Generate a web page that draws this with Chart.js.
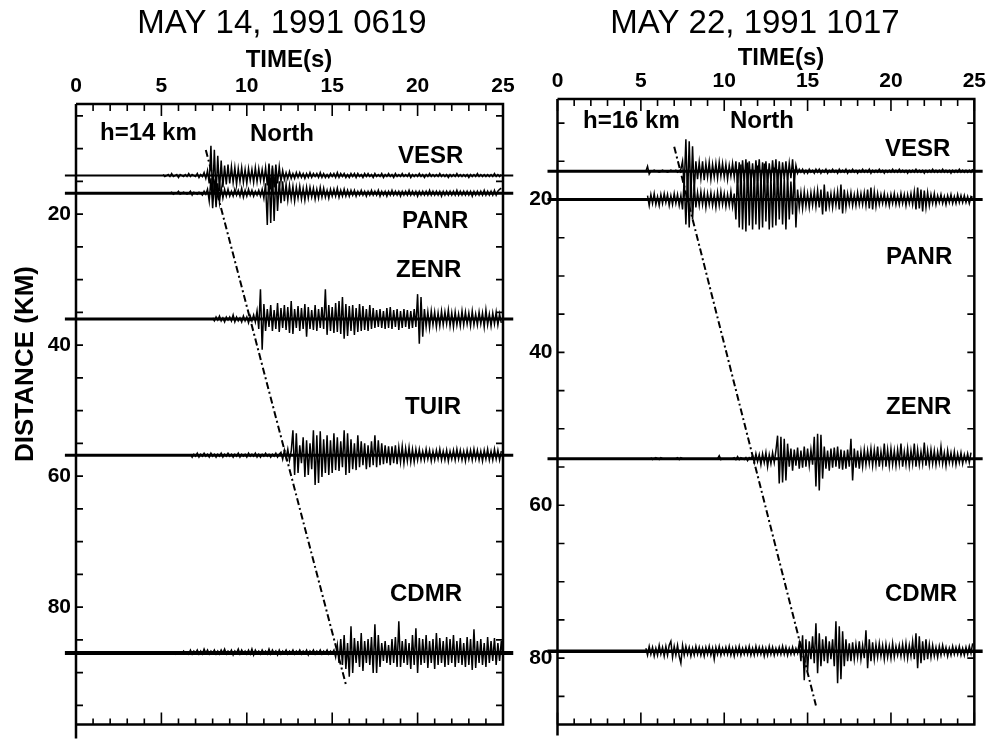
<!DOCTYPE html>
<html><head><meta charset="utf-8">
<script src="https://cdn.jsdelivr.net/npm/chart.js@4.4.1/dist/chart.umd.min.js"></script>
<style>
html,body{margin:0;padding:0;background:#fff;}
#wrap{position:relative;width:991px;height:742px;overflow:hidden;background:#fff;}
canvas{position:absolute;left:0;top:0;}
</style></head><body>
<div id="wrap"><canvas id="c1" width="991" height="742"></canvas><canvas id="c2" width="991" height="742"></canvas></div>
<script>
// ---------- DATA ----------
const timeTicks = [0, 5, 10, 15, 20, 25];          // s
const distTicks = [20, 40, 60, 80];                // km
const dt = 0.1;                                    // sample interval of traces (s)

// Event 1: MAY 14, 1991 0619 (h = 14 km)
const stations14 = ['VESR', 'PANR', 'ZENR', 'TUIR', 'CDMR'];
const dist14  = [14.1, 16.8, 36.0, 56.8, 87.0];    // epicentral distance (km)
const start14 = [5.1, 5.5, 8.0, 6.7, 5.5];         // trace start time (s)
const gain14 = 1 / 6.6;                            // km of plot per amplitude count
const moveoutTime14 = [7.6, 15.8];
const moveoutDist14 = [10.2, 91.8];

const vesr14 = [1,-1,0,1,-1,2,-1,0,1,-2,1,0,-1,1,-1,2,-1,1,0,-1,2,-2,1,-1,3,
 -3,5,-8,30,-22,26,-20,20,-16,15,
 -12,10,-9,11,-8,9,-7,8,-9,7,-6,8,-7,6,-8,7,-5,6,-7,8,-6,7,-5,6,-6,8,
 -10,12,-14,10,-12,11,-8,9,-6,5,
 -4,3,-3,4,-3,2,-3,3,-2,3,-2,2,-3,2,-2,3,-2,2,-1,2,
 -2,3,-2,2,-2,1,-2,2,-1,2,-2,3,-2,2,-1,2,-2,1,-2,2,
 -1,2,-2,2,-1,1,-2,2,-1,2,-1,1,-2,2,-1,1,-1,2,-2,1,
 -1,2,-1,1,-2,2,-1,1,-1,2,-1,1,-1,2,-2,1,-1,1,-1,2,
 -1,1,-2,1,-1,2,-1,1,-1,1,-1,2,-1,1,-1,1,-2,1,-1,1,
 -1,2,-1,1,-1,1,-1,1,-2,1,-1,1,-1,2,-1,1,-1,1,-1,1,
 -1,1,-1,2,-1,1,-1,1];
const panr14 = [0,1,-1,0,0,2,-1,0,1,0,-1,0,2,-2,1,0,-1,1,0,-2,2,-1,
 4,-8,15,-15,12,-14,10,-9,6,
 -5,4,-3,4,-3,2,-3,4,-2,3,-3,5,-4,3,-3,4,-2,3,-3,2,-2,3,-3,4,-5,
 10,-32,28,-30,25,-28,20,-18,12,-10,
 12,-8,9,-7,8,-6,7,-8,6,-5,7,-6,5,-7,6,-5,6,-4,5,-6,4,-5,6,-4,5,-4,3,-5,4,-3,4,-3,5,-4,3,-3,4,-3,3,
 -3,3,-2,3,-3,2,-2,3,-2,2,-3,2,-2,3,-2,2,-2,3,-3,2,
 -2,2,-3,2,-2,3,-2,2,-2,2,-3,2,-2,2,-2,3,-2,2,-2,2,
 -3,2,-2,2,-2,2,-2,3,-2,2,-2,2,-2,2,-3,2,-2,2,-2,2,
 -2,2,-2,3,-2,2,-2,2,-2,2,-2,2,-3,2,-2,2,-2,2,-2,3,
 -2,2,-2,2,-2,3,-2,2,4,5];
const zenr14 = [1,-2,2,-1,3,-2,1,-3,2,-1,2,-2,4,-3,2,-2,1,-3,3,-2,2,-4,3,-2,4,-3,
 8,-10,30,-31,15,-12,
 10,-8,14,-12,9,-10,16,-13,11,-9,14,-11,12,-14,18,-15,10,-9,13,-12,11,-10,15,-18,12,-10,9,-11,14,-12,10,-9,12,-10,
 30,-16,14,-12,
 12,-14,16,-13,18,-15,22,-20,15,-17,13,-12,14,-16,11,-13,15,-12,13,-11,10,-12,14,-10,11,-9,
 9,-8,10,-9,8,-10,11,-9,12,-10,9,-8,10,-11,8,-9,10,-8,9,-10,8,-9,10,-8,
 25,-25,22,-18,
 10,-8,7,-9,8,-6,7,-8,6,-7,8,-6,7,-5,9,-7,6,-8,7,-6,5,-7,8,-6,7,-5,6,-7,8,-6,5,-6,7,-5,6,-8,9,-6,5,-7,6,-5,7,-6,5,-4];
const tuir14 = [1,-2,1,-1,2,-2,1,-1,2,-1,1,-2,2,-1,1,-2,1,-1,2,-2,
 1,-1,2,-1,1,-2,1,-1,2,-2,1,-1,1,-2,2,-1,1,-1,2,-2,
 1,-2,1,-1,2,-1,1,-2,1,-1,2,-2,1,
 3,-4,5,-3,6,-5,4,
 25,-20,22,-18,10,-8,18,-22,15,-20,12,-14,25,-30,20,-28,24,-22,16,-18,
 20,-20,15,-18,22,-15,18,-16,14,-12,25,-20,22,-18,16,-14,12,-15,20,-12,
 14,-10,12,-14,10,-12,14,-10,20,-12,15,-10,12,-9,10,-8,9,
 -10,9,-8,10,-9,8,-7,9,-8,7,-6,8,-7,6,-7,6,-5,6,
 -5,4,-5,6,-4,5,-6,4,-5,5,-4,6,-5,4,-5,5,-6,4,-4,5,-5,6,-4,5,-5,4,-6,5,-4,5,-5,6,-4,5,-5,4,-6,5,-4,6,-5,4,-5,6,-4,5,-5,4];
const cdmr14 = [1,0,1,-1,1,0,1,-1,2,0,1,-1,
 3,-1,2,0,3,-1,2,-1,4,0,3,-1,2,0,3,-1,2,-1,3,0,
 4,-1,2,0,3,-2,2,0,4,-1,3,0,2,-1,3,-1,4,-2,3,0,
 2,-1,3,0,2,-1,4,-1,3,0,2,-2,3,-1,2,0,3,-1,2,0,
 3,-1,2,0,3,-1,2,0,3,-2,2,0,3,-1,2,0,3,-1,2,0,
 3,-1,2,0,3,
 -4,8,-10,14,-12,18,-16,10,-24,27,-20,15,-10,12,-14,20,-18,12,-10,14,
 -12,16,-20,29,-20,18,-14,10,-8,12,-10,8,-12,14,-10,16,-14,32,-14,12,
 -10,14,-12,10,-16,18,-12,25,-20,15,-12,14,-10,18,-15,12,-10,14,-16,20,
 -12,15,-10,12,-14,16,-12,14,-10,18,-14,12,-10,15,-12,10,-14,16,-12,14,
 -17,24,-15,12,-10,14,-12,10,-14,16,-10,12,-8,15,-12,10,-8,12,-6];

// Event 2: MAY 22, 1991 1017 (h = 16 km)
const stations22 = ['VESR', 'PANR', 'ZENR', 'CDMR'];
const dist22  = [16.3, 20.0, 53.9, 79.1];
const start22 = [5.3, 5.4, 5.6, 5.3];
const gain22 = 1 / 7.66;
const moveoutTime22 = [7.0, 15.5];
const moveoutDist22 = [13.1, 86.2];

const vesr22 = [0,5,-3,0,0,1,0,0,-1,0,1,0,0,-1,0,1,0,0,1,-1,0,2,
 10,-15,32,-28,30,-26,25,-20,
 10,-8,9,-7,10,-9,8,-6,9,-8,7,-6,8,-7,9,-5,8,-6,7,-8,6,-5,8,-6,
 10,-12,9,-14,11,-10,12,-15,10,-12,8,-14,11,-10,12,-13,9,-11,10,-12,8,-10,11,-9,12,-14,10,-12,9,-8,10,-9,8,-7,12,-10,6,
 -2,2,-1,2,-2,1,-2,2,-1,1,-2,2,-1,2,-2,1,-1,2,-2,1,
 -1,2,-1,1,-2,2,-1,1,-1,2,-2,1,-1,2,-1,1,-2,1,-1,2,
 -1,1,-1,2,-2,1,-1,1,-1,2,-1,1,-2,1,-1,1,-1,2,-1,1,
 -1,2,-1,1,-1,1,-2,1,-1,1,-1,2,-1,1,-1,1,-2,1,-1,1,
 -1,2,-1,1,-1,1,-1,2,-1,1,-1,1,-2,1,-1,1,-1,2,-1,1,
 -1,1,-1,1,-1,2];
const panr22 = [4,-6,5,-4,6,-5,3,-6,5,-4,6,-3,5,-6,4,-5,6,-4,5,-6,4,
 -10,20,-25,22,-28,24,-20,15,
 -8,7,-6,8,-5,7,-8,6,-5,7,-6,5,-8,7,-6,8,-5,6,-7,5,-6,8,-7,6,
 -20,30,-28,35,-30,25,-32,37,-26,30,-30,28,-25,34,-30,26,-28,36,-22,30,-30,24,-28,32,-26,30,-20,28,-25,22,-30,26,-20,18,-15,30,-28,
 10,-8,7,-9,8,-7,6,-8,7,-6,
 8,-7,9,-8,10,-15,15,-12,8,-7,
 6,-8,7,-6,8,-10,15,-14,10,-8,
 6,-5,7,-6,5,-6,7,-5,6,-5,
 7,-6,10,-9,12,-10,8,-7,6,-5,
 5,-4,6,-5,4,-6,5,-4,6,-5,
 4,-5,6,-4,5,-6,5,-4,6,-5,
 8,-10,12,-9,10,-12,9,-8,7,-6,
 5,-4,6,-5,4,-3,5,-4,3,-5,
 4,-3,5,-4,3,-4,5,-3,4,-3,
 4,-3,3,-4,3,2];
const zenr22 = [1,-1,0,1,0,-1,1,0,0,0, 0,0,0,0,0,0,1,-1,1,0, 0,0,0,0,0,0,0,0,0,0,
 0,0,0,0,0,0,0,0,0,0, 0,3,-1,0,0,0,0,0,0,0, 1,-1,2,-1,1,0,-1,1,-2,1, 0,
 3,-4,5,-3,4,-6,5,-4,6,-8,4,-5,6,-4,8,
 23,-25,22,-24,20,-22,15,
 -8,10,-12,9,-7,11,-10,8,-9,12,-8,10,-7,9,-6,
 22,-28,25,-32,24,-20,12,
 -10,8,-12,10,-9,11,-8,12,-10,9,-11,8,-10,9,-8,20,-22,10,-9,8,-10,7,-8,9,
 -6,8,-5,10,-7,9,-6,12,-8,7,-6,15,-8,9,-7,10,-6,8,-7,9,
 -5,15,-8,7,-6,10,-7,8,-5,15,-8,9,-6,7,-5,16,-7,8,-6,9,
 -5,8,-6,7,-4,12,-5,6,-7,8,-4,6,-5,7,-6,5,-4,6,-5,4,
 -3,5,-4,6];
const cdmr22 = [3,-4,5,-3,4,-5,3,-4,6,-3,
 4,-5,5,-4,6,10,-6,5,-4,6,
 -5,-12,6,-4,5,-3,4,-5,3,-4,
 5,-3,4,-4,3,-5,4,-3,5,-4,
 3,-8,4,-3,5,-4,3,-3,4,-3,
 5,-4,3,-5,4,-3,5,-4,3,-3,
 4,-3,5,-4,3,-4,5,-3,4,-3,
 4,-5,3,-4,5,-3,4,-4,3,-3,
 4,-3,5,-3,4,-4,3,-3,4,-3,
 3,-2,
 8,-10,16,-29,12,-20,10,-8,15,-12,
 28,-22,18,-15,12,-10,15,-12,10,-8,
 12,-15,30,-32,25,-28,20,-15,12,-10,
 8,-10,9,-8,7,-6,10,-8,6,-7,
 21,-17,12,-10,9,-8,7,-6,8,-5,
 6,-8,7,-6,5,-7,8,-6,5,-4,
 6,-5,7,-6,8,-7,6,-5,10,-8,
 18,-17,15,-12,10,-9,12,-8,7,-6,
 6,-5,4,-6,5,-4,6,-3,4,-5,
 3,-4,5,-3,4,-3,5,-4,3,-4,
 4,-3,5,-2,8];

// ---------- BUILD ----------
const FONT = "'Liberation Sans', Arial, Helvetica, sans-serif";

function traceData(values, t0, d, gain) {
  return values.map((a, i) => ({ x: t0 + i * dt, y: d - a * gain }));
}

function makePanel(id, p) {
  const datasets = [];
  p.traces.forEach((vals, i) => {
    datasets.push({ data: [{x: p.baseFrom, y: p.dist[i]}, {x: p.baseTo, y: p.dist[i]}],
      borderColor: '#000', borderWidth: p.baseWidth[i], pointRadius: 0, clip: false, order: 2 });
    datasets.push({ data: traceData(vals, p.start[i], p.dist[i], p.gain),
      borderColor: '#000', borderWidth: 1.5, pointRadius: 0, clip: false, order: 1 });
  });
  datasets.push({ data: p.moveT.map((t, i) => ({ x: t, y: p.moveD[i] })),
    borderColor: '#000', borderWidth: 2, borderDash: [7, 3, 2, 3], pointRadius: 0, order: 0 });

  const a = p.area;
  const decor = {
    id: 'decor',
    afterDraw(chart) {
      const ctx = chart.ctx, ar = chart.chartArea, xs = chart.scales.x, ys = chart.scales.y;
      ctx.save();
      ctx.strokeStyle = '#000';
      ctx.lineWidth = 2.5;
      ctx.beginPath();
      ctx.moveTo(ar.left, ar.top); ctx.lineTo(ar.right, ar.top);
      ctx.lineTo(ar.right, ar.bottom); ctx.lineTo(ar.left, ar.bottom);
      ctx.moveTo(ar.left, ar.top); ctx.lineTo(ar.left, ar.bottom + p.axisExt);
      ctx.stroke();
      ctx.lineWidth = 1.6;
      ctx.beginPath();
      for (let t = 0; t <= 25; t++) {
        const px = xs.getPixelForValue(t), maj = t % 5 === 0;
        ctx.moveTo(px, ar.top); ctx.lineTo(px, ar.top + (maj ? 12 : 7));
        ctx.moveTo(px, ar.bottom); ctx.lineTo(px, ar.bottom - (maj ? 12 : 6));
      }
      for (let d = 5; d < 100; d += 5) {
        if (d < ys.min || d > ys.max) continue;
        const py = ys.getPixelForValue(d);
        ctx.moveTo(ar.left, py); ctx.lineTo(ar.left + 7, py);
        ctx.moveTo(ar.right, py); ctx.lineTo(ar.right - 7, py);
      }
      ctx.stroke();
      ctx.fillStyle = '#000';
      ctx.textAlign = 'center'; ctx.textBaseline = 'alphabetic';
      ctx.font = 'normal 33px ' + FONT;
      ctx.fillText(p.title, p.titleX, 33);
      ctx.font = 'bold 24px ' + FONT;
      ctx.fillText('TIME(s)', p.timeX, p.timeY);
      ctx.textAlign = 'left';
      ctx.font = 'bold 24px ' + FONT;
      p.texts.forEach(tx => ctx.fillText(tx[0], tx[1], tx[2]));
      if (p.yTitle) {
        ctx.save();
        ctx.translate(p.yTitle[1], p.yTitle[2]);
        ctx.rotate(-Math.PI / 2);
        ctx.textAlign = 'center';
        ctx.font = 'bold 26px ' + FONT;
        ctx.fillText(p.yTitle[0], 0, 0);
        ctx.restore();
      }
      ctx.restore();
    }
  };

  return new Chart(document.getElementById(id), {
    type: 'line',
    data: { datasets },
    plugins: [decor],
    options: {
      responsive: false, animation: false, parsing: false, normalized: true,
      layout: { padding: { left: 0, top: 0, right: 991 - a.right, bottom: 742 - a.bottom } },
      plugins: { legend: { display: false }, tooltip: { enabled: false }, title: { display: false } },
      elements: { line: { tension: 0 } },
      scales: {
        x: {
          type: 'linear', position: 'top', min: 0, max: 25,
          afterFit: s => { s.height = a.top; },
          afterBuildTicks: s => { s.ticks = timeTicks.map(v => ({ value: v })); },
          grid: { display: false, drawTicks: false },
          border: { display: false },
          ticks: { padding: 5, color: '#000', maxRotation: 0, autoSkip: false,
                   font: { family: FONT, size: 21, weight: 'bold' } }
        },
        y: {
          type: 'linear', position: 'left', reverse: true, min: p.yMin, max: p.yMax,
          afterFit: s => { s.width = a.left; },
          afterBuildTicks: s => { s.ticks = distTicks.map(v => ({ value: v })); },
          grid: { display: false, drawTicks: false },
          border: { display: false },
          ticks: { padding: 5, color: '#000', autoSkip: false,
                   font: { family: FONT, size: 21, weight: 'bold' } }
        }
      }
    }
  });
}

makePanel('c1', {
  area: { left: 76, right: 503, top: 104, bottom: 729 },
  yMin: 3.18, yMax: 97.9, axisExt: 14,
  traces: [vesr14, panr14, zenr14, tuir14, cdmr14],
  dist: dist14, start: start14, gain: gain14,
  baseFrom: -0.65, baseTo: 25.6, baseWidth: [2.2, 3, 3, 3, 4],
  moveT: moveoutTime14, moveD: moveoutDist14,
  title: 'MAY 14, 1991 0619', titleX: 282, timeX: 289, timeY: 67,
  texts: [['h=14 km', 100, 140], ['North', 250, 141], ['VESR', 398, 163], ['PANR', 402, 228],
          ['ZENR', 396, 277], ['TUIR', 405, 414], ['CDMR', 390, 601]],
  yTitle: ['DISTANCE (KM)', 33, 364]
});

makePanel('c2', {
  area: { left: 557.5, right: 985.5, top: 99, bottom: 726 },
  yMin: 6.85, yMax: 88.67, axisExt: 11,
  traces: [vesr22, panr22, zenr22, cdmr22],
  dist: dist22, start: start22, gain: gain22,
  baseFrom: -0.6, baseTo: 25.5, baseWidth: [3, 3, 3, 3.5],
  moveT: moveoutTime22, moveD: moveoutDist22,
  title: 'MAY 22, 1991 1017', titleX: 755, timeX: 781, timeY: 65,
  texts: [['h=16 km', 583, 128], ['North', 730, 128], ['VESR', 885, 156], ['PANR', 886, 264],
          ['ZENR', 886, 414], ['CDMR', 885, 601]],
  yTitle: null
});
</script>
</body></html>
